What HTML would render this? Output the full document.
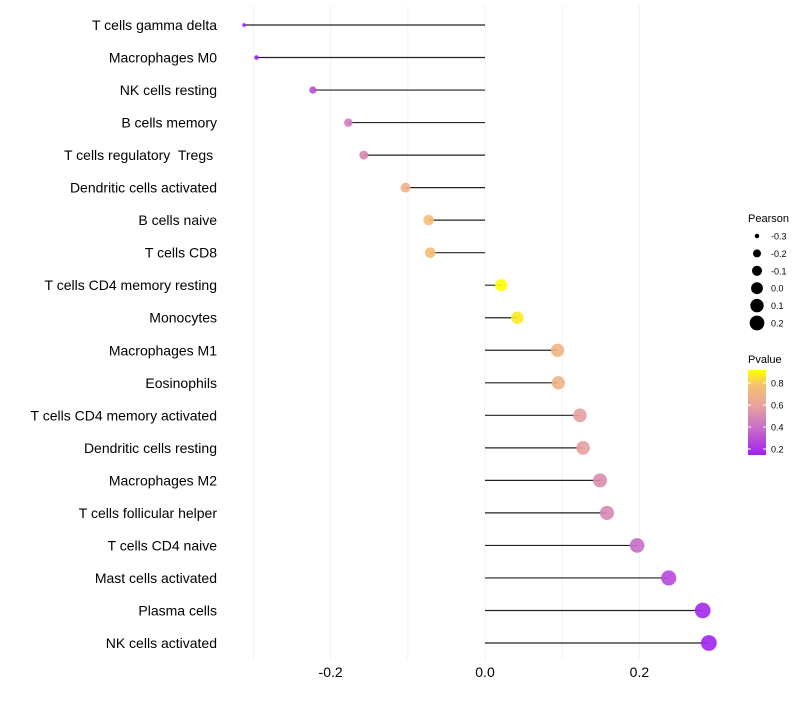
<!DOCTYPE html>
<html><head><meta charset="utf-8"><style>
body{margin:0;background:#fff;font-family:"Liberation Sans",sans-serif}
text{white-space:pre}
</style></head><body>
<svg id="chart" width="800" height="700"></svg>
<script>
const categories=["T cells gamma delta","Macrophages M0","NK cells resting","B cells memory","T cells regulatory  Tregs ","Dendritic cells activated","B cells naive","T cells CD8","T cells CD4 memory resting","Monocytes","Macrophages M1","Eosinophils","T cells CD4 memory activated","Dendritic cells resting","Macrophages M2","T cells follicular helper","T cells CD4 naive","Mast cells activated","Plasma cells","NK cells activated"];
const pearson=[-0.312,-0.296,-0.223,-0.177,-0.157,-0.103,-0.073,-0.071,0.021,0.042,0.094,0.095,0.123,0.127,0.149,0.158,0.197,0.238,0.282,0.290];
const pvalue=[0.12,0.14,0.3,0.45,0.5,0.7,0.78,0.79,0.95,0.9,0.72,0.72,0.6,0.6,0.52,0.5,0.4,0.28,0.17,0.15];
const xTicks=[-0.2,0,0.2];
const xTickLabels=["-0.2","0.0","0.2"];
const sizeLegend=[-0.3,-0.2,-0.1,0.0,0.1,0.2];
const sizeLegendLabels=["-0.3","-0.2","-0.1","0.0","0.1","0.2"];
const colorTicks=[0.8,0.6,0.4,0.2];

const NS="http://www.w3.org/2000/svg";
const svg=document.getElementById('chart');
function mk(t,a,p){const e=document.createElementNS(NS,t);for(const k in a)e.setAttribute(k,a[k]);(p||svg).appendChild(e);return e;}
const x=v=>485+v*772;
const y=i=>25+i*(618/19);
const r=v=>Math.sqrt(Math.max(3,v<-0.2?5+110*(v+0.3):16+95*(v+0.2)));
const stops=[[0.14,[160,32,240]],[0.4,[200,110,200]],[0.6,[232,160,160]],[0.8,[245,192,112]],[0.95,[255,255,0]]];
function col(p){if(p<=stops[0][0])return 'rgb('+stops[0][1]+')';for(let i=1;i<stops.length;i++){if(p<=stops[i][0]){const t=(p-stops[i-1][0])/(stops[i][0]-stops[i-1][0]);const a=stops[i-1][1],b=stops[i][1];return 'rgb('+a.map((c,j)=>Math.round(c+(b[j]-c)*t))+')';}}return 'rgb('+stops[stops.length-1][1]+')';}

// grid
[-0.3,-0.2,-0.1,0,0.1,0.2].forEach(v=>{const g=mk('line',{x1:x(v),x2:x(v),y1:5,y2:660,stroke:'#f2f2f2','stroke-width':1});

});
// ticks
xTicks.forEach((v,i)=>{const t=mk('text',{x:x(v),y:677,'text-anchor':'middle','font-size':14,fill:'#000'});t.textContent=xTickLabels[i];

});
categories.forEach((c,i)=>{
 const t=mk('text',{x:217,y:y(i)+5,'text-anchor':'end','font-size':14,fill:'#000'});t.textContent=c;
 
 
 const l=mk('line',{x1:x(0),x2:x(pearson[i]),y1:y(i),y2:y(i),stroke:'#222','stroke-width':1.2});
 
 
 const d=mk('circle',{cx:x(pearson[i]),cy:y(i),r:r(pearson[i]),fill:col(pvalue[i]),'fill-opacity':0.9});
 
 
});
// size legend
const lt=mk('text',{x:748,y:222,'font-size':11,fill:'#000'});lt.textContent='Pearson';


sizeLegend.forEach((v,i)=>{const cy=236+i*17.4;
 const c=mk('circle',{cx:757,cy:cy,r:r(v),fill:'#000'});
 
 
 const t=mk('text',{x:771,y:cy+3.5,'font-size':9,fill:'#000'});t.textContent=sizeLegendLabels[i];
 
 });
// color legend
const ct=mk('text',{x:748,y:363,'font-size':11,fill:'#000'});ct.textContent='Pvalue';


const defs=mk('defs',{});const lg=mk('linearGradient',{id:'pg',x1:0,y1:1,x2:0,y2:0},defs);
stops.forEach(s=>mk('stop',{offset:((s[0]-0.14)/(0.95-0.14)),'stop-color':'rgb('+s[1]+')'},lg));
const cb=mk('rect',{x:748,y:370,width:18,height:85,fill:'url(#pg)'});


const py=p=>383+(0.8-p)*110;
colorTicks.forEach(p=>{const t=mk('text',{x:771,y:py(p)+3.5,'font-size':9,fill:'#000'});t.textContent=p.toFixed(1);
 
 
 mk('line',{x1:748,x2:751,y1:py(p),y2:py(p),stroke:'#fff'});mk('line',{x1:763,x2:766,y1:py(p),y2:py(p),stroke:'#fff'});});
</script>
</body></html>
